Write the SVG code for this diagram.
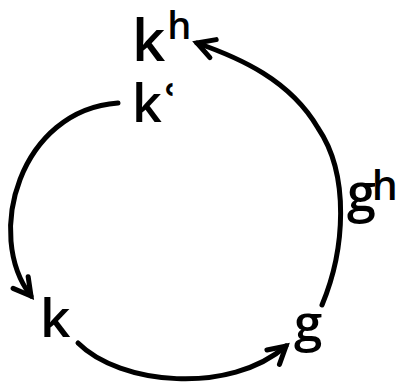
<svg xmlns="http://www.w3.org/2000/svg" width="397" height="383" viewBox="0 0 397 383">
<style>
.t{font-family:"Open Sans","Noto Sans","DejaVu Sans",sans-serif;font-weight:600;fill:#000}
.m{font-family:"DejaVu Sans",sans-serif;font-weight:bold}
.c{fill:none;stroke:#000;stroke-width:5;stroke-linecap:round}
</style>
<defs>
<marker id="ah" markerUnits="userSpaceOnUse" markerWidth="40" markerHeight="40" viewBox="-25 -20 40 40" refX="0" refY="0" orient="auto">
<path d="M-17,-9.5 L0,0 L-17,9.5" fill="none" stroke="#000" stroke-width="5" stroke-linecap="round" stroke-linejoin="miter"/>
</marker>
</defs>
<rect width="397" height="383" fill="#fff"/>
<g id="connectors">
<path class="c" d="M118,103 C20,110 -16,235 31,296" marker-end="url(#ah)"/>
<path class="c" d="M78,343 C120,385 230,395 286,346" marker-end="url(#ah)"/>
<path class="c" d="M322,305 C345,250 350,175 318,128 C290,80 240,58 197,43" marker-end="url(#ah)"/>
</g>
<g id="kh">
<text class="t" x="132" y="61" font-size="58">k<tspan dx="2" dy="-22" font-size="38">h</tspan></text>
</g>
<g id="kq">
<text class="t" x="132" y="122" font-size="52">k<tspan class="m" dx="-1" dy="-4" font-size="46">ʿ</tspan></text>
</g>
<g id="k">
<text class="t" x="40" y="337" font-size="53">k</text>
</g>
<g id="g">
<text class="t" x="294" y="341" font-size="51">g</text>
</g>
<g id="gh">
<text class="t" x="347" y="211" font-size="52">g<tspan dx="-4" dy="-11" font-size="41">h</tspan></text>
</g>
</svg>
